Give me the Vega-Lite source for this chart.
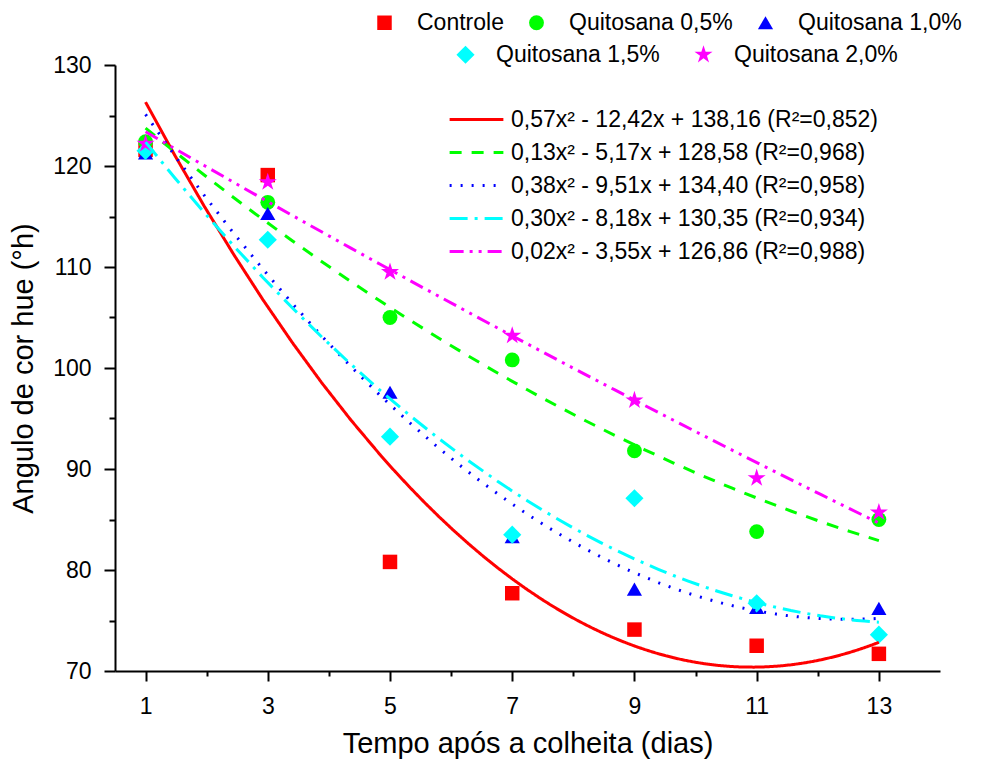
{
  "$schema": "https://vega.github.io/schema/vega-lite/v6.json",
  "width": 825,
  "height": 606,
  "autosize": {"type": "none"},
  "padding": {"left": 115, "top": 65, "right": 47, "bottom": 91},
  "background": "white",
  "config": {
    "view": {"stroke": null},
    "font": "Liberation Sans",
    "axis": {
      "domainColor": "black", "domainWidth": 2, "tickColor": "black", "tickWidth": 2,
      "labelFont": "Liberation Sans", "labelColor": "black",
      "titleFont": "Liberation Sans", "titleFontSize": 29, "titleFontWeight": "normal", "titleColor": "black",
      "grid": false
    },
    "legend": {
      "labelFont": "Liberation Sans", "labelFontSize": 23, "labelColor": "black", "labelLimit": 700, "padding": 0
    }
  },
  "data": {"values": [
    {"serie": "Controle", "eq": "0,57x² - 12,42x + 138,16 (R²=0,852)", "dia": 1, "hue": 121.6},
    {"serie": "Controle", "eq": "0,57x² - 12,42x + 138,16 (R²=0,852)", "dia": 3, "hue": 119.1},
    {"serie": "Controle", "eq": "0,57x² - 12,42x + 138,16 (R²=0,852)", "dia": 5, "hue": 80.8},
    {"serie": "Controle", "eq": "0,57x² - 12,42x + 138,16 (R²=0,852)", "dia": 7, "hue": 77.7},
    {"serie": "Controle", "eq": "0,57x² - 12,42x + 138,16 (R²=0,852)", "dia": 9, "hue": 74.1},
    {"serie": "Controle", "eq": "0,57x² - 12,42x + 138,16 (R²=0,852)", "dia": 11, "hue": 72.5},
    {"serie": "Controle", "eq": "0,57x² - 12,42x + 138,16 (R²=0,852)", "dia": 13, "hue": 71.7},
    {"serie": "Quitosana 0,5%", "eq": "\u20020,13x² - 5,17x + 128,58 (R²=0,968)", "dia": 1, "hue": 122.4},
    {"serie": "Quitosana 0,5%", "eq": "\u20020,13x² - 5,17x + 128,58 (R²=0,968)", "dia": 3, "hue": 116.4},
    {"serie": "Quitosana 0,5%", "eq": "\u20020,13x² - 5,17x + 128,58 (R²=0,968)", "dia": 5, "hue": 105.0},
    {"serie": "Quitosana 0,5%", "eq": "\u20020,13x² - 5,17x + 128,58 (R²=0,968)", "dia": 7, "hue": 100.8},
    {"serie": "Quitosana 0,5%", "eq": "\u20020,13x² - 5,17x + 128,58 (R²=0,968)", "dia": 9, "hue": 91.8},
    {"serie": "Quitosana 0,5%", "eq": "\u20020,13x² - 5,17x + 128,58 (R²=0,968)", "dia": 11, "hue": 83.8},
    {"serie": "Quitosana 0,5%", "eq": "\u20020,13x² - 5,17x + 128,58 (R²=0,968)", "dia": 13, "hue": 85.0},
    {"serie": "Quitosana 1,0%", "eq": "\u20020,38x² - 9,51x + 134,40 (R²=0,958)", "dia": 1, "hue": 121.3},
    {"serie": "Quitosana 1,0%", "eq": "\u20020,38x² - 9,51x + 134,40 (R²=0,958)", "dia": 3, "hue": 115.3},
    {"serie": "Quitosana 1,0%", "eq": "\u20020,38x² - 9,51x + 134,40 (R²=0,958)", "dia": 5, "hue": 97.6},
    {"serie": "Quitosana 1,0%", "eq": "\u20020,38x² - 9,51x + 134,40 (R²=0,958)", "dia": 7, "hue": 83.3},
    {"serie": "Quitosana 1,0%", "eq": "\u20020,38x² - 9,51x + 134,40 (R²=0,958)", "dia": 9, "hue": 78.1},
    {"serie": "Quitosana 1,0%", "eq": "\u20020,38x² - 9,51x + 134,40 (R²=0,958)", "dia": 11, "hue": 76.3},
    {"serie": "Quitosana 1,0%", "eq": "\u20020,38x² - 9,51x + 134,40 (R²=0,958)", "dia": 13, "hue": 76.2},
    {"serie": "Quitosana 1,5%", "eq": "\u20020,30x² - 8,18x + 130,35 (R²=0,934)", "dia": 1, "hue": 121.5},
    {"serie": "Quitosana 1,5%", "eq": "\u20020,30x² - 8,18x + 130,35 (R²=0,934)", "dia": 3, "hue": 112.7},
    {"serie": "Quitosana 1,5%", "eq": "\u20020,30x² - 8,18x + 130,35 (R²=0,934)", "dia": 5, "hue": 93.2},
    {"serie": "Quitosana 1,5%", "eq": "\u20020,30x² - 8,18x + 130,35 (R²=0,934)", "dia": 7, "hue": 83.5},
    {"serie": "Quitosana 1,5%", "eq": "\u20020,30x² - 8,18x + 130,35 (R²=0,934)", "dia": 9, "hue": 87.1},
    {"serie": "Quitosana 1,5%", "eq": "\u20020,30x² - 8,18x + 130,35 (R²=0,934)", "dia": 11, "hue": 76.7},
    {"serie": "Quitosana 1,5%", "eq": "\u20020,30x² - 8,18x + 130,35 (R²=0,934)", "dia": 13, "hue": 73.6},
    {"serie": "Quitosana 2,0%", "eq": "\u20020,02x² - 3,55x + 126,86 (R²=0,988)", "dia": 1, "hue": 122.2},
    {"serie": "Quitosana 2,0%", "eq": "\u20020,02x² - 3,55x + 126,86 (R²=0,988)", "dia": 3, "hue": 118.4},
    {"serie": "Quitosana 2,0%", "eq": "\u20020,02x² - 3,55x + 126,86 (R²=0,988)", "dia": 5, "hue": 109.5},
    {"serie": "Quitosana 2,0%", "eq": "\u20020,02x² - 3,55x + 126,86 (R²=0,988)", "dia": 7, "hue": 103.2},
    {"serie": "Quitosana 2,0%", "eq": "\u20020,02x² - 3,55x + 126,86 (R²=0,988)", "dia": 9, "hue": 96.8},
    {"serie": "Quitosana 2,0%", "eq": "\u20020,02x² - 3,55x + 126,86 (R²=0,988)", "dia": 11, "hue": 89.1},
    {"serie": "Quitosana 2,0%", "eq": "\u20020,02x² - 3,55x + 126,86 (R²=0,988)", "dia": 13, "hue": 85.7}
  ]},
  "encoding": {
    "x": {
      "field": "dia", "type": "quantitative",
      "scale": {"domain": [0.5, 14], "nice": false, "zero": false},
      "axis": {
        "title": "Tempo após a colheita (dias)",
        "values": [1, 2, 3, 4, 5, 6, 7, 8, 9, 10, 11, 12, 13],
        "labelExpr": "datum.value % 2 == 1 ? datum.label : ''",
        "tickSize": {"condition": {"test": "datum.value % 2 == 1", "value": 10}, "value": 5},
        "labelFontSize": 23,
        "labelPadding": 14,
        "titlePadding": 11
      }
    },
    "y": {
      "field": "hue", "type": "quantitative",
      "scale": {"domain": [70, 130], "nice": false, "zero": false},
      "axis": {
        "title": "Angulo de cor hue (°h)",
        "values": [70, 75, 80, 85, 90, 95, 100, 105, 110, 115, 120, 125, 130],
        "labelExpr": "datum.value % 10 == 0 ? datum.label : ''",
        "tickSize": {"condition": {"test": "datum.value % 10 == 0", "value": 11}, "value": 6},
        "labelFontSize": 23,
        "labelPadding": 13,
        "titlePadding": 14
      }
    }
  },
  "layer": [
    {
      "transform": [{"filter": {"field": "serie", "oneOf": ["Controle", "Quitosana 0,5%", "Quitosana 1,0%"]}}],
      "mark": {"type": "point", "filled": true, "opacity": 1, "strokeWidth": 0},
      "encoding": {
        "color": {
          "field": "serie", "type": "nominal",
          "scale": {"domain": ["Controle", "Quitosana 0,5%", "Quitosana 1,0%"], "range": ["#ff0000", "#00ff00", "#0000ff"]},
          "legend": {"orient": "none", "legendX": 258, "legendY": -54, "direction": "horizontal", "title": null, "columnPadding": 21, "labelOffset": 21, "labelFontSize": 23}
        },
        "shape": {
          "field": "serie", "type": "nominal",
          "scale": {"domain": ["Controle", "Quitosana 0,5%", "Quitosana 1,0%"], "range": ["square", "circle", "triangle-up"]}
        },
        "size": {
          "field": "serie", "type": "nominal",
          "scale": {"domain": ["Controle", "Quitosana 0,5%", "Quitosana 1,0%"], "range": [210, 230, 320]}
        }
      }
    },
    {
      "transform": [{"filter": {"field": "serie", "oneOf": ["Quitosana 1,5%", "Quitosana 2,0%"]}}],
      "mark": {"type": "point", "filled": true, "opacity": 1, "strokeWidth": 0},
      "encoding": {
        "color": {
          "field": "serie", "type": "nominal",
          "scale": {"domain": ["Quitosana 1,5%", "Quitosana 2,0%"], "range": ["#00ffff", "#ff00ff"]},
          "legend": {"orient": "none", "legendX": 339, "legendY": -22, "direction": "horizontal", "title": null, "columnPadding": 32, "labelOffset": 19, "labelFontSize": 23}
        },
        "shape": {
          "field": "serie", "type": "nominal",
          "scale": {"domain": ["Quitosana 1,5%", "Quitosana 2,0%"], "range": ["diamond", "M0,-1L0.2245,-0.309L0.951,-0.309L0.363,0.118L0.588,0.809L0,0.382L-0.588,0.809L-0.363,0.118L-0.951,-0.309L-0.2245,-0.309Z"]}
        },
        "size": {
          "field": "serie", "type": "nominal",
          "scale": {"domain": ["Quitosana 1,5%", "Quitosana 2,0%"], "range": [330, 360]}
        }
      }
    },
    {
      "transform": [{"regression": "hue", "on": "dia", "groupby": ["eq"], "method": "poly", "order": 2, "as": ["dia", "hue"]}],
      "mark": {"type": "line", "strokeWidth": 3},
      "encoding": {
        "stroke": {
          "field": "eq", "type": "nominal",
          "scale": {
            "domain": ["0,57x² - 12,42x + 138,16 (R²=0,852)", "\u20020,13x² - 5,17x + 128,58 (R²=0,968)", "\u20020,38x² - 9,51x + 134,40 (R²=0,958)", "\u20020,30x² - 8,18x + 130,35 (R²=0,934)", "\u20020,02x² - 3,55x + 126,86 (R²=0,988)"],
            "range": ["#ff0000", "#00ff00", "#0000ff", "#00ffff", "#ff00ff"]
          },
          "legend": {"orient": "none", "legendX": 344, "legendY": 37, "direction": "vertical", "title": null, "symbolType": "M-1.7,0H1.7", "symbolSize": 1000, "symbolStrokeWidth": 3, "labelOffset": 17, "rowPadding": 3, "labelFontSize": 23}
        },
        "strokeDash": {
          "field": "eq", "type": "nominal",
          "scale": {
            "domain": ["0,57x² - 12,42x + 138,16 (R²=0,852)", "\u20020,13x² - 5,17x + 128,58 (R²=0,968)", "\u20020,38x² - 9,51x + 134,40 (R²=0,958)", "\u20020,30x² - 8,18x + 130,35 (R²=0,934)", "\u20020,02x² - 3,55x + 126,86 (R²=0,988)"],
            "range": [[1, 0], [12, 10], [2, 9], [18, 7, 3, 7], [14, 6, 3, 6, 3, 6]]
          }
        }
      }
    }
  ],
  "resolve": {"scale": {"color": "independent", "shape": "independent", "size": "independent"}}
}
